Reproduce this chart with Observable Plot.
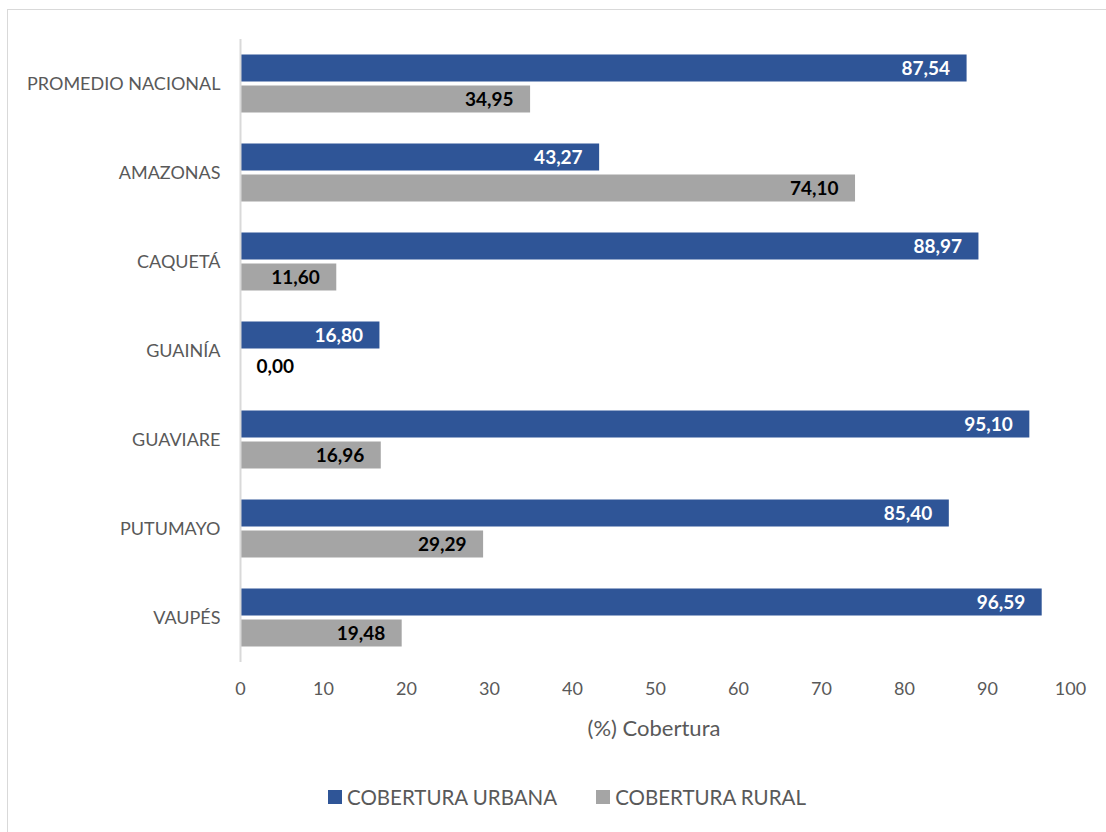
<!DOCTYPE html>
<html>
<head>
<meta charset="utf-8">
<script src="https://cdn.jsdelivr.net/npm/d3@7"></script>
<script src="https://cdn.jsdelivr.net/npm/@observablehq/plot@0.6"></script>
<style>
  html, body { margin: 0; padding: 0; background: #fff; overflow: hidden; width: 1106px; height: 832px; }
  #frame { position: absolute; left: 7px; top: 9px; width: 1120px; height: 840px; border: 1px solid #d9d9d9; box-sizing: border-box; }
  #chart { position: absolute; left: 0; top: 0; }
  #xlabel { position: absolute; left: 0; width: 1308px; top: 714px; text-align: center; font-family: Lato, "Open Sans", sans-serif; font-size: 22px; color: #595959; }
  #legend { position: absolute; left: 328px; top: 785px; font-family: Lato, "Open Sans", sans-serif; font-size: 20.5px; color: #595959; display: flex; align-items: center; white-space: nowrap; }
  #legend .sw { display: inline-block; width: 14px; height: 14px; margin-right: 5px; }
  #legend .item { display: flex; align-items: center; margin-right: 39px; }
</style>
</head>
<body>
<div id="frame"></div>
<div id="chart"></div>
<div id="xlabel"></div>
<div id="legend"></div>
<script>
const categories = ["PROMEDIO NACIONAL", "AMAZONAS", "CAQUETÁ", "GUAINÍA", "GUAVIARE", "PUTUMAYO", "VAUPÉS"];
const urbana = [87.54, 43.27, 88.97, 16.80, 95.10, 85.40, 96.59];
const rural = [34.95, 74.10, 11.60, 0.00, 16.96, 29.29, 19.48];
const seriesNames = ["COBERTURA URBANA", "COBERTURA RURAL"];
const seriesColors = ["#2F5597", "#A5A5A5"];
const xTicks = [0, 10, 20, 30, 40, 50, 60, 70, 80, 90, 100];
const xTitle = "(%) Cobertura";

const data = [];
categories.forEach((c, i) => {
  data.push({cat: c, series: seriesNames[0], value: urbana[i]});
  data.push({cat: c, series: seriesNames[1], value: rural[i]});
});
const fmt = v => v.toFixed(2).replace(".", ",");

const chart = Plot.plot({
  width: 1106,
  height: 760,
  marginLeft: 240,
  marginRight: 36,
  marginTop: 38.5,
  marginBottom: 98.5,
  style: {fontFamily: "Lato, 'Open Sans', sans-serif", fontSize: "18px", color: "#595959", background: "transparent"},
  x: {domain: [0, 100], ticks: xTicks, tickSize: 0, tickPadding: 20, label: null},
  y: {domain: seriesNames, paddingInner: 0.127, paddingOuter: 0.476, axis: null},
  fy: {domain: categories, padding: 0, axis: "left", tickSize: 0, tickPadding: 20, label: null},
  color: {domain: seriesNames, range: seriesColors},
  marks: [
    Plot.barX(data, {fy: "cat", y: "series", x: "value", fill: "series"}),
    Plot.ruleX([0], {stroke: "#d9d9d9", strokeWidth: 2}),
    Plot.text(data.filter(d => d.value > 5), {
      fy: "cat", y: "series", x: "value", text: d => fmt(d.value),
      textAnchor: "end", dx: -17, fontWeight: "bold", fontSize: 19,
      fill: d => d.series === seriesNames[0] ? "#ffffff" : "#000000"
    }),
    Plot.text(data.filter(d => d.value <= 5), {
      fy: "cat", y: "series", x: 0, text: d => fmt(d.value),
      textAnchor: "start", dx: 16, fontWeight: "bold", fontSize: 19, fill: "#000000"
    })
  ]
});
document.getElementById("chart").appendChild(chart);
document.getElementById("xlabel").textContent = xTitle;

const legend = document.getElementById("legend");
seriesNames.forEach((s, i) => {
  const item = document.createElement("span");
  item.className = "item";
  const sw = document.createElement("span");
  sw.className = "sw";
  sw.style.background = seriesColors[i];
  item.appendChild(sw);
  item.appendChild(document.createTextNode(s));
  legend.appendChild(item);
});
</script>
</body>
</html>
